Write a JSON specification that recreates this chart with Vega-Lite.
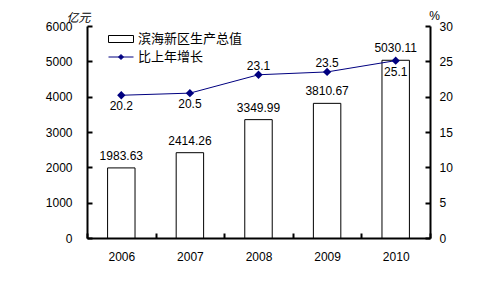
{
  "$schema": "https://vega.github.io/schema/vega-lite/v6.json",
  "width": 343,
  "height": 212,
  "autosize": {"type": "none"},
  "padding": {"left": 87, "top": 26, "right": 56, "bottom": 43},
  "background": "white",
  "config": {
    "font": "Liberation Sans, Noto Sans CJK SC",
    "view": {"stroke": null},
    "axis": {"grid": false, "domain": true, "domainColor": "black", "tickColor": "black", "labelColor": "black", "labelFontSize": 12, "domainWidth": 2, "tickWidth": 2, "titleFontWeight": "normal", "titleColor": "black", "labelOverlap": false},
    "legend": {"padding": 0, "labelFontSize": 13, "labelColor": "black", "labelFont": "Noto Sans CJK SC"}
  },
  "data": {
    "values": [
      {"year": "2006", "gdp": 1983.63, "growth": 20.2},
      {"year": "2007", "gdp": 2414.26, "growth": 20.5},
      {"year": "2008", "gdp": 3349.99, "growth": 23.1},
      {"year": "2009", "gdp": 3810.67, "growth": 23.5},
      {"year": "2010", "gdp": 5030.11, "growth": 25.1}
    ]
  },
  "encoding": {
    "x": {
      "field": "year", "type": "nominal",
      "scale": {"paddingInner": 0, "paddingOuter": 0},
      "axis": {"title": null, "labelAngle": 0, "tickBand": "extent", "tickSize": -5, "labelPadding": 18, "labelBaseline": "top"}
    }
  },
  "layer": [
    {
      "encoding": {
        "y": {"field": "gdp", "type": "quantitative", "scale": {"domain": [0, 6000]},
          "axis": {"orient": "left", "values": [0, 1000, 2000, 3000, 4000, 5000, 6000], "format": "d", "tickSize": -5, "labelPadding": 20,
            "title": "亿元", "titleAngle": 0, "titleX": -9, "titleY": -9, "titleAlign": "center", "titleBaseline": "middle", "titleFont": "Noto Sans CJK SC", "titleFontSize": 12, "titleFontStyle": "italic"}}
      },
      "layer": [
        {
          "mark": {"type": "bar", "width": {"band": 0.4}, "stroke": "black", "strokeWidth": 1},
          "encoding": {
            "fill": {"datum": "滨海新区生产总值", "type": "nominal", "scale": {"range": ["white"]},
              "legend": {"title": null, "orient": "none", "legendX": 21, "legendY": 0, "symbolType": "M-1,-0.28H1V0.28H-1Z", "symbolSize": 625, "symbolStrokeColor": "black", "symbolStrokeWidth": 1, "symbolFillColor": "white"}}
          }
        },
        {
          "mark": {"type": "text", "baseline": "bottom", "dy": -5, "fontSize": 12, "color": "black"},
          "encoding": {
            "text": {"field": "gdp", "type": "quantitative", "format": ".2f"}
          }
        }
      ]
    },
    {
      "encoding": {
        "y": {"field": "growth", "type": "quantitative", "scale": {"domain": [0, 30]},
          "axis": {"orient": "right", "values": [0, 5, 10, 15, 20, 25, 30], "format": "d", "tickSize": -5, "labelPadding": 14,
            "title": "%", "titleAngle": 0, "titleX": 4, "titleY": -11, "titleAlign": "center", "titleBaseline": "middle", "titleFontSize": 12}}
      },
      "layer": [
        {
          "mark": {"type": "line", "color": "#000080", "strokeWidth": 1, "point": {"shape": "diamond", "size": 30, "filled": true, "color": "#000080"}},
          "encoding": {
            "stroke": {"datum": "比上年增长", "type": "nominal", "scale": {"range": ["#000080"]},
              "legend": {"title": null, "orient": "none", "legendX": 21, "legendY": 18, "symbolType": "M-1,0H1M-0.2,0L0,-0.2L0.2,0L0,0.2Z", "symbolSize": 625, "symbolStrokeColor": "#000080", "symbolStrokeWidth": 1, "symbolFillColor": "#000080"}}
          }
        },
        {
          "transform": [{"filter": "datum.year == '2006' || datum.year == '2007' || datum.year == '2010'"}],
          "mark": {"type": "text", "baseline": "middle", "dy": 11, "fontSize": 12, "color": "black"},
          "encoding": {
            "text": {"field": "growth", "type": "quantitative", "format": ".1f"}
          }
        },
        {
          "transform": [{"filter": "datum.year == '2008' || datum.year == '2009'"}],
          "mark": {"type": "text", "baseline": "middle", "dy": -9, "fontSize": 12, "color": "black"},
          "encoding": {
            "text": {"field": "growth", "type": "quantitative", "format": ".1f"}
          }
        }
      ]
    }
  ],
  "resolve": {"scale": {"y": "independent", "fill": "independent", "stroke": "independent"}}
}
